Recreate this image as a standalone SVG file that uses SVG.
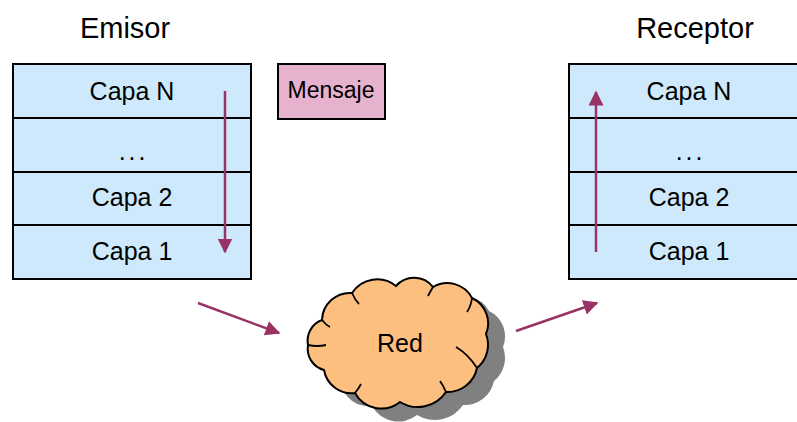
<svg xmlns="http://www.w3.org/2000/svg" width="797" height="422" viewBox="0 0 797 422">
  <style>
    .layer { fill: #cde9fb; stroke: #000; stroke-width: 2; }
    .lbl { font-family: "Liberation Sans", Arial, sans-serif; font-size: 25px; fill: #000; text-anchor: middle; }
    .title { font-family: "Liberation Sans", Arial, sans-serif; font-size: 29px; fill: #000; text-anchor: middle; }
    .flow { stroke: #993366; stroke-width: 2.5; fill: none; marker-end: url(#head); }
  </style>
  <defs>
    <marker id="head" viewBox="0 0 10 10" refX="9" refY="5" markerWidth="6" markerHeight="6" orient="auto" markerUnits="strokeWidth">
      <path d="M0,0 L10,5 L0,10 Z" fill="#993366"/>
    </marker>
    <path id="cloudShape" d="M322,320 A28,28 0 0 1 352,293 A30,30 0 0 1 396,286 A24,24 0 0 1 433,287 A28,28 0 0 1 472,298 A28,28 0 0 1 486,334 A30,30 0 0 1 477,368 A30,30 0 0 1 446,392 A34,34 0 0 1 400,402 A30,30 0 0 1 355,393 A28,28 0 0 1 324,370 A22,22 0 0 1 308,345 A22,22 0 0 1 322,320 Z"/>
  </defs>

  <rect width="797" height="422" fill="#fff"/>

  <g id="emisor">
    <text class="title" x="125" y="38">Emisor</text>
    <rect class="layer" x="13" y="64" width="238" height="54"/>
    <rect class="layer" x="13" y="118" width="238" height="54"/>
    <rect class="layer" x="13" y="172" width="238" height="53"/>
    <rect class="layer" x="13" y="225" width="238" height="54"/>
    <text class="lbl" x="132" y="100">Capa N</text>
    <text class="lbl" x="131" y="160" letter-spacing="-2">. . .</text>
    <text class="lbl" x="132" y="206">Capa 2</text>
    <text class="lbl" x="132" y="260">Capa 1</text>
  </g>

  <g id="mensaje">
    <rect x="278" y="64" width="107" height="55" fill="#e6b2cd" stroke="#000" stroke-width="2"/>
    <text class="lbl" x="331" y="98" style="font-size:23px">Mensaje</text>
  </g>

  <g id="receptor">
    <text class="title" x="695" y="38">Receptor</text>
    <rect class="layer" x="569" y="64" width="240" height="54"/>
    <rect class="layer" x="569" y="118" width="240" height="54"/>
    <rect class="layer" x="569" y="172" width="240" height="53"/>
    <rect class="layer" x="569" y="225" width="240" height="54"/>
    <text class="lbl" x="689" y="100">Capa N</text>
    <text class="lbl" x="688" y="160" letter-spacing="-2">. . .</text>
    <text class="lbl" x="689" y="206">Capa 2</text>
    <text class="lbl" x="689" y="260">Capa 1</text>
  </g>

  <g id="red">
    <use href="#cloudShape" transform="translate(17,13)" fill="#808080"/>
    <use href="#cloudShape" fill="#fdbf7f" stroke="#000" stroke-width="2"/>
    <g fill="none" stroke="#000" stroke-width="1.8">
      <path d="M322,320 Q326,325 330,327"/>
      <path d="M352,293 Q355,300 359,304"/>
      <path d="M433,287 Q430,292 428,296"/>
      <path d="M472,298 Q471,306 467,312"/>
      <path d="M477,368 Q468,354 456,347"/>
      <path d="M446,392 Q443,385 440,381"/>
      <path d="M355,393 Q359,388 361,384"/>
      <path d="M308,345 Q317,347 326,345"/>
    </g>
    <text class="lbl" x="400" y="352">Red</text>
  </g>

  <g id="connectors">
    <line class="flow" x1="225" y1="91" x2="225" y2="252"/>
    <line class="flow" x1="596" y1="252" x2="596" y2="92"/>
    <line class="flow" x1="198" y1="303" x2="279" y2="333"/>
    <line class="flow" x1="516" y1="331" x2="597" y2="303"/>
  </g>
</svg>
